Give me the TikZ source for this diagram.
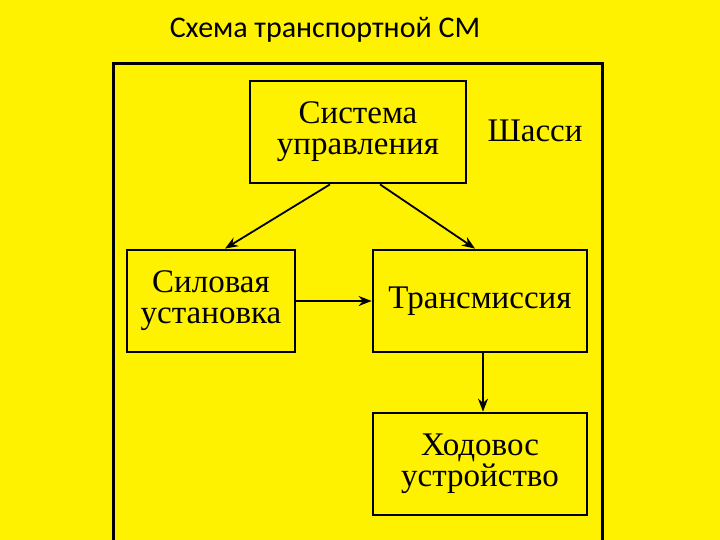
\documentclass[tikz,border=0pt]{standalone}
\usepackage{fontspec}
\setmainfont{Liberation Serif}
\newfontfamily\titlefont{Carlito}
\usetikzlibrary{arrows.meta}
\begin{document}
\begin{tikzpicture}[x=1pt,y=-1pt,
  blk/.style={draw,line width=2.8pt,align=center,font=\fontsize{33}{31}\selectfont,inner sep=0pt},
  arr/.style={line width=1.8pt,-{Stealth[length=13pt,width=10pt]}}]
\fill[yellow] (0,0) rectangle (720,540);
\useasboundingbox (0,0) rectangle (720,540);
\node[font=\titlefont\fontsize{30}{32}\selectfont] (title) at (325,30) {Схема транспортной СМ};
\draw[line width=3pt] (113,545) -- (113,64) -- (602,64) -- (602,545);
\node[blk,minimum width=216pt,minimum height=102pt] (su) at (358,132) {Система\\управления};
\node[font=\fontsize{33}{31}\selectfont] (sh) at (535,131) {Шасси};
\node[blk,minimum width=168pt,minimum height=102pt] (sil) at (211,301) {Силовая\\установка};
\node[blk,minimum width=214pt,minimum height=102pt] (tr) at (480,301) {Трансмиссия};
\node[blk,minimum width=214pt,minimum height=102pt] (hod) at (480,464) {Ходовос\\устройство};
\draw[arr] ([xshift=-28pt]su.south) -- ([xshift=14pt]sil.north);
\draw[arr] ([xshift=22pt]su.south) -- ([xshift=-5pt]tr.north);
\draw[arr] (sil.east) -- (tr.west);
\draw[arr] ([xshift=3pt]tr.south) -- ([xshift=3pt]hod.north);
\end{tikzpicture}
\end{document}
